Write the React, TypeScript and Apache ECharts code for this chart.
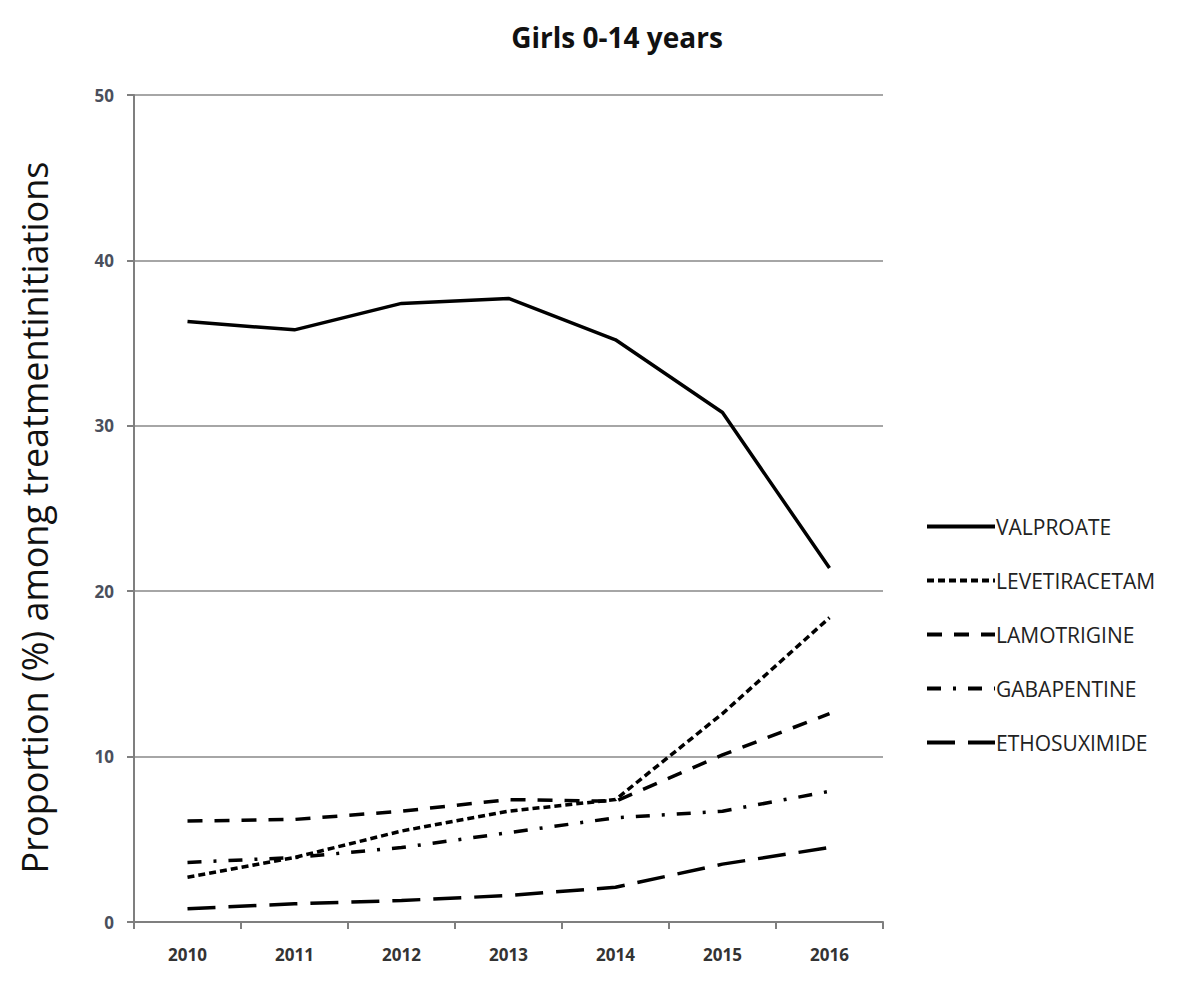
import React, { useEffect, useRef } from "react";
import * as echarts from "echarts";

const years = ["2010", "2011", "2012", "2013", "2014", "2015", "2016"];
const valproate = [36.3, 35.8, 37.4, 37.7, 35.2, 30.8, 21.4];
const levetiracetam = [2.7, 3.9, 5.5, 6.7, 7.4, 12.6, 18.4];
const lamotrigine = [6.1, 6.2, 6.7, 7.4, 7.3, 10.1, 12.6];
const gabapentine = [3.6, 3.9, 4.5, 5.4, 6.3, 6.7, 7.9];
const ethosuximide = [0.8, 1.1, 1.3, 1.6, 2.1, 3.5, 4.5];
const yTicks = { min: 0, max: 50, interval: 10 };

const seriesDefs = [
  { name: "VALPROATE", data: valproate, dash: "solid" as any },
  { name: "LEVETIRACETAM", data: levetiracetam, dash: [7, 4] },
  { name: "LAMOTRIGINE", data: lamotrigine, dash: [15, 12] },
  { name: "GABAPENTINE", data: gabapentine, dash: [14, 12, 3, 12] },
  { name: "ETHOSUXIMIDE", data: ethosuximide, dash: [28, 13] },
];

export default function App() {
  const ref = useRef<HTMLDivElement>(null);
  useEffect(() => {
    if (!ref.current) return;
    const chart = echarts.init(ref.current, null, { renderer: "svg" });
    const font = "'Open Sans', 'Liberation Sans', sans-serif";
    chart.setOption({
      animation: false,
      backgroundColor: "#ffffff",
      title: {
        text: "Girls 0-14 years",
        left: 604,
        top: 10,
        textAlign: "center",
        textStyle: { fontFamily: font, fontSize: 28, fontWeight: "bold", color: "#111" },
      },
      grid: { left: 122, right: 301, top: 87, bottom: 57, containLabel: false },
      legend: {
        orient: "vertical",
        left: 912,
        top: 503,
        itemWidth: 68,
        itemHeight: 12,
        itemGap: 33,
        itemStyle: { color: "rgba(0,0,0,0)", borderColor: "rgba(0,0,0,0)", borderWidth: 0 },
        lineStyle: { width: 4, color: "#000" },
        textStyle: { fontFamily: font, fontSize: 21, color: "#222", padding: [0, 0, 0, -4] },
        data: seriesDefs.map((s) => ({ name: s.name })),
      },
      xAxis: {
        type: "category",
        data: years,
        boundaryGap: true,
        axisLine: { lineStyle: { color: "#7f7f7f", width: 2 } },
        axisTick: { show: true, interval: 0, length: 7, lineStyle: { color: "#7f7f7f", width: 2 } },
        axisLabel: {
          margin: 24,
          fontFamily: font,
          fontSize: 17,
          fontWeight: "bold",
          color: "#333",
        },
      },
      yAxis: {
        type: "value",
        min: yTicks.min,
        max: yTicks.max,
        interval: yTicks.interval,
        name: "Proportion (%) among treatmentinitiations",
        nameLocation: "middle",
        nameGap: 82,
        nameTextStyle: { fontFamily: font, fontSize: 36, color: "#111", padding: [0, 18, 0, 0] },
        axisLine: { show: true, lineStyle: { color: "#7f7f7f", width: 2 } },
        axisTick: { show: true, length: 7, lineStyle: { color: "#7f7f7f", width: 2 } },
        axisLabel: {
          margin: 20,
          fontFamily: font,
          fontSize: 17,
          fontWeight: "bold",
          color: "#4a4f5c",
        },
        splitLine: { lineStyle: { color: "#a6a6a6", width: 2 } },
      },
      series: seriesDefs.map((s) => ({
        name: s.name,
        type: "line",
        data: s.data,
        symbol: "none",
        showSymbol: false,
        color: "#000",
        lineStyle: { color: "#000", width: 3.5, type: s.dash },
      })),
    });
    return () => chart.dispose();
  }, []);
  return <div ref={ref} style={{ width: 1176, height: 971 }} />;
}
